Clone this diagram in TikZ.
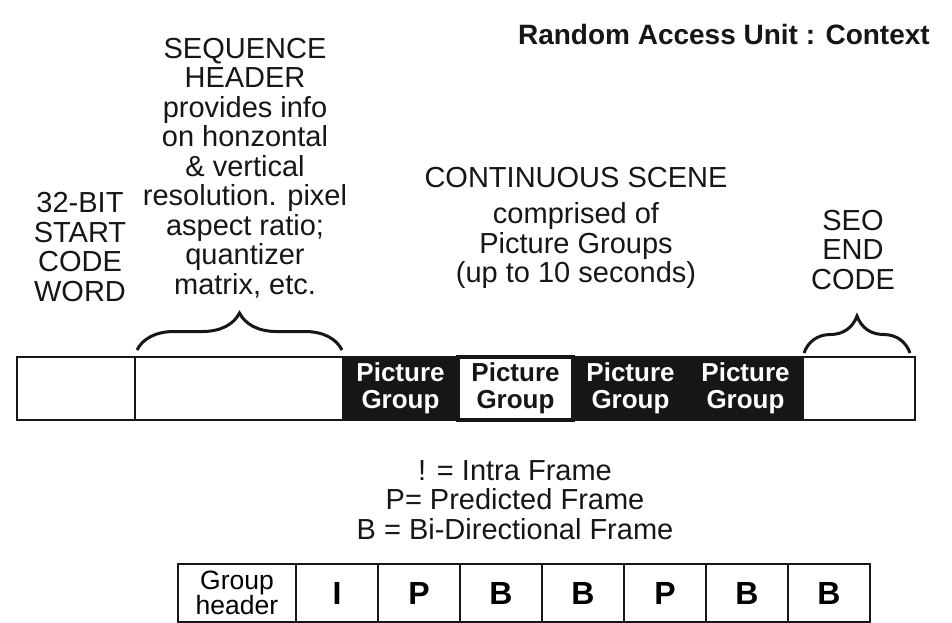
\documentclass[tikz,border=0pt]{standalone}
\usepackage{fontspec}
\setmainfont{Liberation Sans}
\usepackage{tikz}
\usetikzlibrary{positioning,decorations.pathreplacing}
\definecolor{inkblack}{RGB}{22,22,22}
\tikzset{
  basebox/.style={rectangle,draw=inkblack,line width=2.6pt,inner sep=0pt,outer sep=0pt,align=center},
  barbox/.style={basebox,fill=white,minimum height=63pt},
  pgbox/.style={basebox,fill=inkblack,text=white,minimum width=115pt,minimum height=63pt,font=\fontsize{26}{27}\selectfont\bfseries},
  pgwhite/.style={pgbox,fill=white,text=inkblack,line width=4pt},
  framebox/.style={basebox,fill=white,minimum width=82pt,minimum height=58pt,font=\fontsize{32}{32}\selectfont\bfseries},
  hdrbox/.style={framebox,minimum width=118pt,font=\fontsize{26.5}{23}\selectfont},
  txtnode/.style={align=center,inner sep=0pt,text=inkblack,font=\fontsize{29}{29.5}\selectfont},
  bracer/.style={decorate,decoration={brace,amplitude=37pt},line width=3pt,draw=inkblack}
}

\begin{document}
\begin{tikzpicture}[x=1pt,y=-1pt,node distance=0pt]
  \useasboundingbox (0,0) rectangle (952,622);

  %% title
  \node[txtnode,anchor=east,font=\fontsize{28}{30}\selectfont\bfseries] (title) at (930,34)
    {Random Access Unit : Context};

  %% main bit stream bar
  \node[barbox,minimum width=118pt,anchor=north west] (startbox) at (17,357) {};
  \node[barbox,minimum width=208pt,right=of startbox] (seqbox) {};
  \node[pgbox,right=of seqbox] (pg1) {Picture\\Group};
  \node[pgwhite,right=of pg1] (pg2) {Picture\\Group};
  \node[pgbox,right=of pg2] (pg3) {Picture\\Group};
  \node[pgbox,right=of pg3] (pg4) {Picture\\Group};
  \node[barbox,minimum width=112pt,right=of pg4] (endbox) {};

  %% captions over the bar
  \node[txtnode] (starttxt) at (80,247) {32-BIT\\START\\CODE\\WORD};
  \node[txtnode] (seqtxt) at (245,168)
    {SEQUENCE\\HEADER\\provides info\\on honzontal\\\& vertical\\resolution. pixel\\aspect ratio;\\quantizer\\matrix, etc.};
  \node[txtnode] (scenetxt) at (576,228)
    {CONTINUOUS SCENE\\[7pt]comprised of\\Picture Groups\\(up to 10 seconds)};
  \node[txtnode] (endtxt) at (853,250) {SEO\\END\\CODE};

  %% braces
  \draw[bracer] ([xshift=2pt,yshift=7pt]seqbox.north west) -- ([xshift=-1pt,yshift=7pt]seqbox.north east);
  \draw[bracer] ([xshift=1pt,yshift=4pt]endbox.north west) -- ([xshift=-5pt,yshift=4pt]endbox.north east);

  %% frame legend
  \node[txtnode] (legend) at (515,500)
    {! = Intra Frame\\P= Predicted Frame\\B = Bi-Directional Frame};

  %% picture group row
  \node[hdrbox,anchor=north west] (ghdr) at (178,564) {Group\\header};
  \node[framebox,right=of ghdr] (fI) {I};
  \node[framebox,right=of fI] (fP1) {P};
  \node[framebox,right=of fP1] (fB1) {B};
  \node[framebox,right=of fB1] (fB2) {B};
  \node[framebox,right=of fB2] (fP2) {P};
  \node[framebox,right=of fP2] (fB3) {B};
  \node[framebox,right=of fB3] (fB4) {B};
\end{tikzpicture}
\end{document}
